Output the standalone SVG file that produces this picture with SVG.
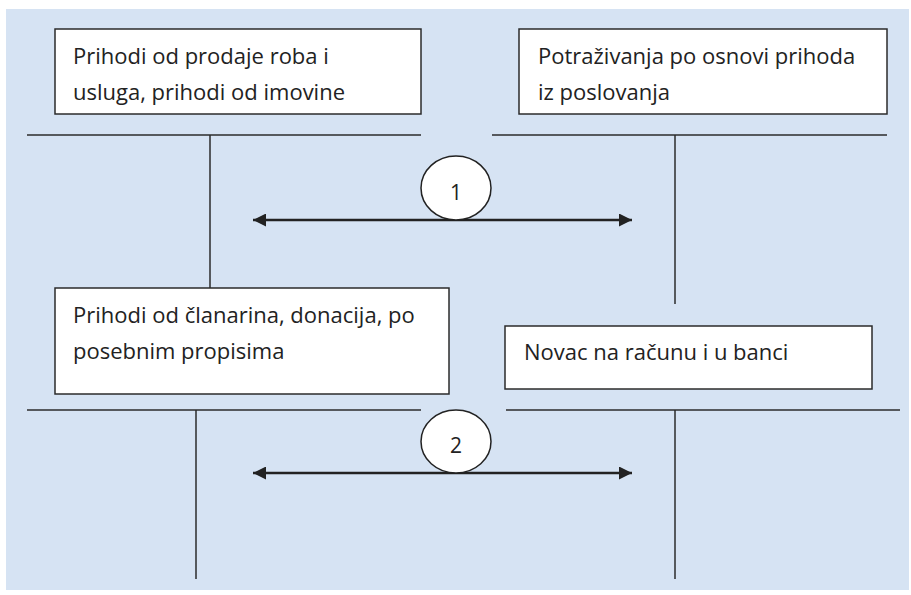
<svg xmlns="http://www.w3.org/2000/svg" width="911" height="595" viewBox="0 0 911 595">
<defs>
<style>
.box{fill:#fff;stroke:#2b2b2b;stroke-width:1.5}
.t{font-family:"Open Sans","Liberation Sans",Arial,sans-serif;font-size:22px;fill:#222}
.n{font-family:"Open Sans","Liberation Sans",Arial,sans-serif;font-size:21px;fill:#222;text-anchor:middle}
.ln{stroke:#2b2b2b;stroke-width:1.5;fill:none}
.ar{stroke:#222;stroke-width:2.6;fill:none;marker-start:url(#ah);marker-end:url(#ah)}
.el{fill:#fff;stroke:#222;stroke-width:1.5}
</style>
<marker id="ah" viewBox="0 0 10 10" refX="10" refY="5" markerWidth="5" markerHeight="5" orient="auto-start-reverse" markerUnits="strokeWidth"><path d="M0,0 L10,5 L0,10 z" fill="#222"/></marker>
</defs>
<rect x="6" y="9" width="903" height="581" fill="#d6e3f3"/>
<g id="connectors">
<line class="ln" x1="27" y1="135" x2="421" y2="135"/>
<line class="ln" x1="210" y1="135" x2="210" y2="288"/>
<line class="ln" x1="492" y1="135" x2="887" y2="135"/>
<line class="ln" x1="675" y1="135" x2="675" y2="304"/>
<line class="ln" x1="27" y1="410" x2="421" y2="410"/>
<line class="ln" x1="196" y1="410" x2="196" y2="579"/>
<line class="ln" x1="506" y1="410" x2="900" y2="410"/>
<line class="ln" x1="675" y1="410" x2="675" y2="579"/>
<line class="ar" x1="253" y1="220" x2="632" y2="220"/>
<line class="ar" x1="253" y1="473" x2="632" y2="473"/>
</g>
<g id="n1"><rect class="box" x="55" y="29" width="366" height="85"/>
<text class="t" x="73" y="64">Prihodi od prodaje roba i</text>
<text class="t" x="73" y="100">usluga, prihodi od imovine</text></g>
<g id="n2"><rect class="box" x="519" y="29" width="368" height="85"/>
<text class="t" x="538" y="64">Potraživanja po osnovi prihoda</text>
<text class="t" x="538" y="100">iz poslovanja</text></g>
<g id="c1"><ellipse class="el" cx="456" cy="188" rx="35" ry="32"/>
<text class="n" x="456" y="200">1</text></g>
<g id="n3"><rect class="box" x="55" y="288" width="394" height="106"/>
<text class="t" x="73" y="323">Prihodi od članarina, donacija, po</text>
<text class="t" x="73" y="359">posebnim propisima</text></g>
<g id="n4"><rect class="box" x="505" y="326" width="367" height="63"/>
<text class="t" x="524" y="360">Novac na računu i u banci</text></g>
<g id="c2"><ellipse class="el" cx="456" cy="441.5" rx="35" ry="31.5"/>
<text class="n" x="456" y="453">2</text></g>
</svg>
